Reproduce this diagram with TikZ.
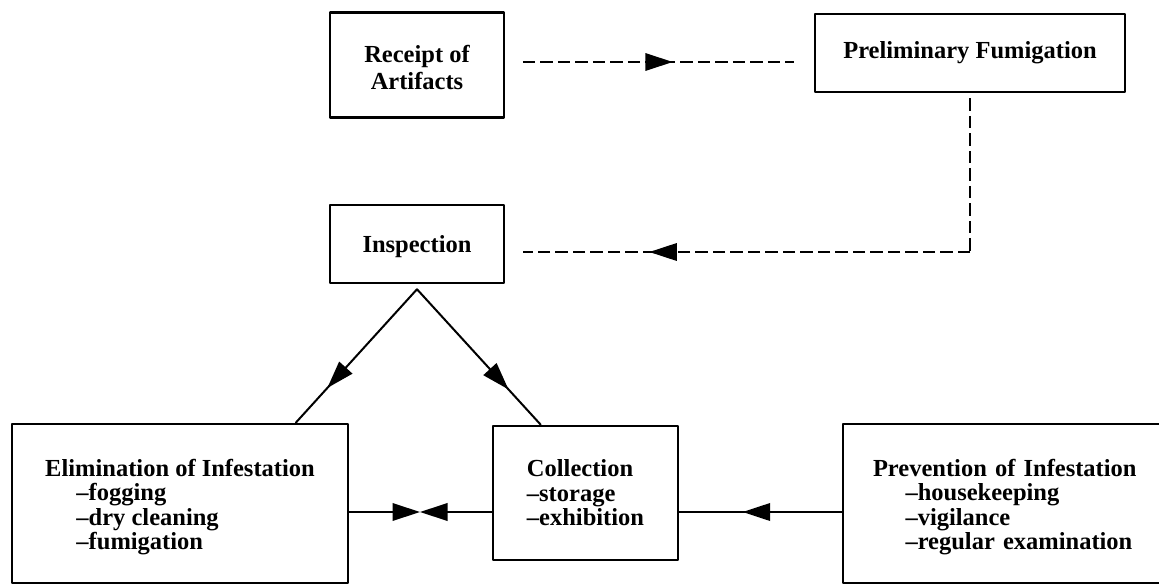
\documentclass[tikz,border=0pt]{standalone}
\usepackage{fontspec}
\setmainfont{Liberation Serif}
\usetikzlibrary{arrows.meta,decorations.markings}

\begin{document}
\begin{tikzpicture}[x=0.4pt,y=-0.4pt,line cap=round,line join=round,>={Triangle[length=11pt,width=7pt]},
	box/.style={draw,line width=1pt,font=\bfseries\fontsize{9.8}{9.8}\selectfont,inner xsep=12pt,align=center},
	listbox/.style={box,align=left},
	dashline/.style={line width=0.7pt,line cap=butt,dash pattern=on 5pt off 2pt},
	midarrow/.style={postaction={decorate},decoration={markings,mark=at position #1 with {\arrow{>}}}}]
	\useasboundingbox (0,0) rectangle (1159,586);
	\clip (0,0) rectangle (1159,586);
	% boxes
	\node[box,minimum width=69.6pt,minimum height=42pt] (receipt) at (417,65) {\rule{0pt}{9pt}Receipt of\\[1.2pt]Artifacts};
	\node[box,inner xsep=8pt,minimum width=124pt,minimum height=31.2pt] (prelim) at (970,53) {Preliminary Fumigation};
	\node[box,minimum width=69.6pt,minimum height=31.2pt] (insp) at (417,244) {\rule{0pt}{9pt}Inspection};
	\node[listbox,minimum width=134.4pt,minimum height=63.6pt] (elim) at (180,503.5)
		{\rule{0pt}{9.6pt}Elimination of Infestation\\\hspace*{12.5pt}\textendash fogging\\\hspace*{12.5pt}\textendash dry cleaning\\\hspace*{12.5pt}\textendash fumigation};
	\node[listbox,minimum width=74pt,minimum height=53.6pt] (coll) at (585.5,493)
		{Collection\\\textendash storage\\\textendash exhibition};
	\node[listbox,text width=118.8pt,minimum height=63.6pt] (prev) at (1021.5,503.5)
		{\rule{0pt}{9.6pt}Prevention of Infestation\\\hspace*{13pt}\textendash housekeeping\\\hspace*{13pt}\textendash vigilance\\\hspace*{13pt}\textendash regular examination};
	% dashed route
	\coordinate (turn) at (prelim.south |- 0,252);
	\draw[dashline,midarrow=0.543,shorten <=7pt,shorten >=8pt] (receipt.east |- 0,62) -- (prelim.west |- 0,62);
	\draw[dashline,shorten <=2pt] (prelim.south) -- (turn);
	\draw[dashline,midarrow=0.69,shorten >=7pt] (turn) -- (insp.east |- turn);
	% solid connectors
	\coordinate (apex) at ([yshift=-2pt]insp.south);
	\coordinate (bow) at (420,512);
	\draw[line width=0.8pt,midarrow=0.74] (apex) -- ([xshift=114pt]elim.north west);
	\draw[line width=0.8pt,midarrow=0.74] (apex) -- ([xshift=19.6pt]coll.north west);
	\draw[line width=0.8pt,->] (elim.east |- bow) -- (bow);
	\draw[line width=0.8pt,->] (coll.west |- bow) -- (bow);
	\draw[line width=0.8pt,midarrow=0.61] (prev.west |- bow) -- (coll.east |- bow);
\end{tikzpicture}
\end{document}
